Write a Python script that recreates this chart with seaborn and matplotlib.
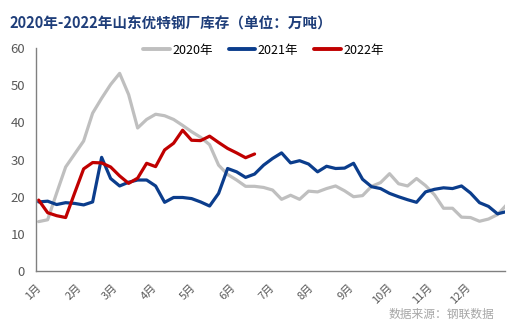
import numpy as np
import pandas as pd
import matplotlib
matplotlib.use("Agg")
import matplotlib.pyplot as plt
import seaborn as sns

v2020 = [13.3, 13.8, 21.0, 28.0, 31.5, 35.0, 42.5, 46.5, 50.2, 53.2, 47.5, 38.5, 40.8,
         42.2, 41.8, 40.8, 39.2, 37.5, 36.0, 34.0, 28.5, 26.0, 24.5, 22.8, 22.8, 22.5,
         21.8, 19.3, 20.4, 19.3, 21.5, 21.3, 22.2, 22.9, 21.6, 20.0, 20.3, 22.8, 23.8,
         26.2, 23.5, 22.9, 24.9, 23.0, 20.5, 16.9, 16.9, 14.5, 14.4, 13.4, 14.0, 15.2, 17.8]
v2021 = [18.6, 18.8, 17.9, 18.4, 18.2, 17.8, 18.6, 30.6, 24.9, 22.9, 23.9, 24.5, 24.5,
         22.9, 18.5, 19.8, 19.8, 19.5, 18.6, 17.5, 20.9, 27.6, 26.7, 25.2, 26.1, 28.5,
         30.3, 31.8, 29.1, 29.7, 28.8, 26.7, 28.2, 27.6, 27.7, 29.0, 24.7, 22.7, 22.2,
         20.9, 20.0, 19.2, 18.5, 21.3, 22.0, 22.4, 22.2, 22.9, 21.0, 18.4, 17.4, 15.4, 16.0]
v2022 = [19.1, 15.7, 14.9, 14.4, 21.0, 27.5, 29.2, 29.1, 28.0, 25.6, 23.6, 25.0, 29.0,
         28.1, 32.6, 34.4, 37.9, 35.2, 35.1, 36.3, 34.6, 33.0, 31.8, 30.5, 31.5]
years = ["2020年", "2021年", "2022年"]
colors = ["#BFBFBF", "#0B3D8C", "#C00000"]
month_labels = ["1月", "2月", "3月", "4月", "5月", "6月", "7月", "8月", "9月", "10月", "11月", "12月"]
month_days = [31, 28, 31, 30, 31, 30, 31, 31, 30, 31, 30, 31]
first_day = 2  # day-of-year offset of the first weekly observation

title = "2020年-2022年山东优特钢厂库存（单位：万吨）"
source = "数据来源：钢联数据"

frames = []
for name, vals in zip(years, [v2020, v2021, v2022]):
    week = np.arange(len(vals))
    frames.append(pd.DataFrame({"day": first_day + 7 * week, "value": vals, "year": name}))
df = pd.concat(frames, ignore_index=True)

sns.set_style("white")
plt.rcParams["font.family"] = ["Noto Sans CJK SC", "DejaVu Sans"]

fig = plt.figure(figsize=(5.23, 3.25), dpi=100)
ax = fig.add_axes([0.069, 0.166, 0.897, 0.686])

sns.lineplot(data=df, x="day", y="value", hue="year", hue_order=years,
             palette=colors, linewidth=2.3, ax=ax, legend=False)

ax.set_xlim(0, 365)
ax.set_ylim(0, 60)
ax.set_yticks(range(0, 61, 10))
starts = np.concatenate([[0], np.cumsum(month_days)])
ax.set_xticks(starts)
ax.set_xticklabels(month_labels + [""], rotation=45, ha="right", rotation_mode="anchor")
ax.set_xlabel("")
ax.set_ylabel("")

for s in ["top", "right"]:
    ax.spines[s].set_visible(False)
for s in ["left", "bottom"]:
    ax.spines[s].set_color("#808080")
    ax.spines[s].set_linewidth(1.0)
ax.tick_params(axis="both", which="major", direction="out", length=4, width=1,
               color="#808080", labelcolor="#595959")
ax.tick_params(axis="y", labelsize=9.5, pad=4)
ax.tick_params(axis="x", labelsize=8, pad=4)
ax.grid(False)

handles = [plt.Line2D([], [], color=c, linewidth=2.8) for c in colors]
ax.legend(handles, years, loc="upper center", bbox_to_anchor=(0.485, 1.07), ncol=3,
          frameon=False, fontsize=9, handlelength=2.1, handletextpad=0.2,
          columnspacing=1.3, labelcolor="#000000")

fig.text(0.019, 0.928, title, fontsize=10.5, fontweight="bold", color="#1F3E7A",
         ha="left", va="center")
fig.text(0.945, 0.033, source, fontsize=8.5, color="#A6A6A6", ha="right", va="center")

fig.savefig("out.png", dpi=100)
